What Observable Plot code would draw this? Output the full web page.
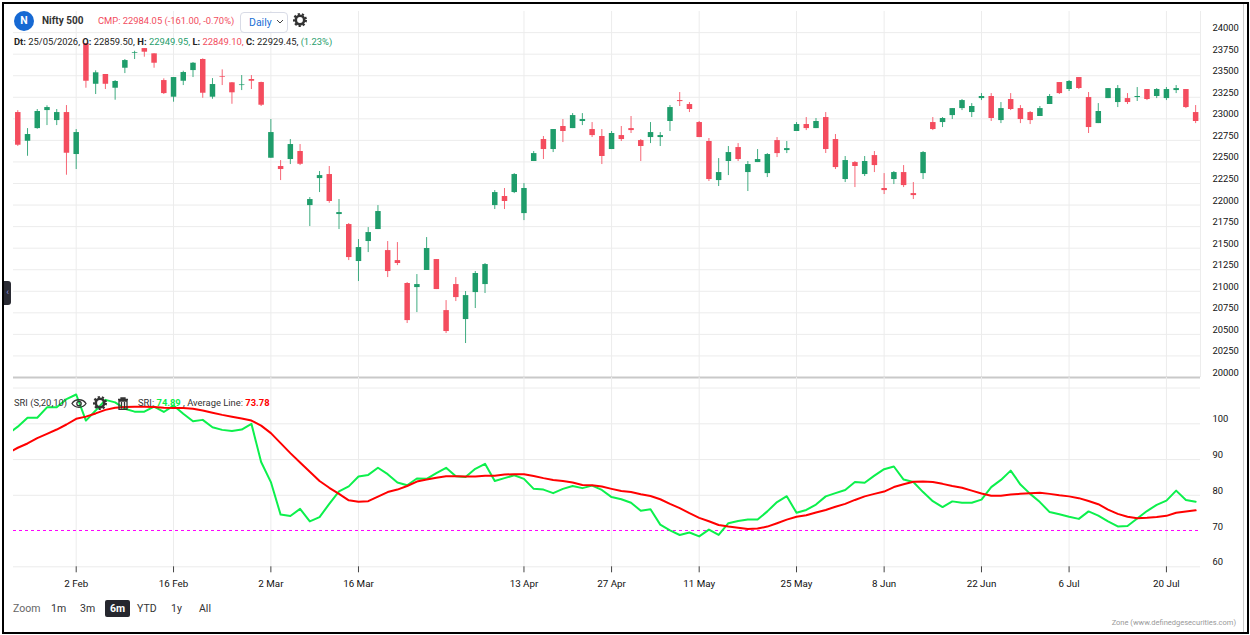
<!DOCTYPE html>
<html><head><meta charset="utf-8">
<script src="https://cdn.jsdelivr.net/npm/d3@7"></script>
<script src="https://cdn.jsdelivr.net/npm/@observablehq/plot@0.6"></script>
<style>
html,body{margin:0;padding:0;background:#fff;overflow:hidden}
body{width:1250px;height:635px;position:relative;font-family:Roboto,sans-serif;color:#222}
#topPane,#botPane{position:absolute;left:0}
#topPane{top:0}#botPane{top:377px}
.t{position:absolute;white-space:nowrap;font-size:9.4px;line-height:14px}
.z{font-size:10.5px}
b{font-weight:700}
.r{color:#f24c5e}.g{color:#1f9d6b}
#frame{position:absolute;left:2px;top:2px;width:1243px;height:628px;border:2px solid #000}
#inner{position:absolute;left:1243px;top:4px;width:1px;height:628px;background:#ccc}
svg.i{position:absolute}
</style></head><body>
<div id="topPane"></div><div id="botPane"></div>
<div id="frame"></div><div id="inner"></div>
<div style="position:absolute;left:14px;top:11px;width:20px;height:20px;border-radius:50%;background:#1669d3;color:#fff;font-size:10.5px;font-weight:700;text-align:center;line-height:20px">N</div>
<div class="t" style="left:42px;top:14px;font-weight:700;font-size:10px;color:#333">Nifty 500</div>
<div class="t r" style="left:98px;top:14px;font-size:9.4px">CMP: 22984.05 (-161.00, -0.70%)</div>
<div style="position:absolute;left:240px;top:12px;width:46px;height:19px;border:1px solid #d8dbe6;border-radius:4px;background:#fff"></div>
<div class="t z" style="left:249px;top:16px;color:#1a6fd6">Daily</div>
<svg class="i" style="left:276px;top:19px" width="8" height="6"><path d="M1 1L4 4L7 1" fill="none" stroke="#444" stroke-width="1"/></svg>
<svg class="i" style="left:293px;top:13px" width="14" height="14" viewBox="0 0 14 14"><circle cx="7" cy="7" r="4.2" fill="none" stroke="#333" stroke-width="2.6"/><circle cx="7" cy="7" r="6" fill="none" stroke="#333" stroke-width="2" stroke-dasharray="2.2 2"/></svg>
<div class="t" style="left:14px;top:35px;color:#222"><b>Dt:</b> 25/05/2026, <b>O:</b> 22859.50, <b>H:</b> <span class="g">22949.95,</span> <b>L:</b> <span class="r">22849.10,</span> <b>C:</b> 22929.45, <span class="g">(1.23%)</span></div>
<div class="t" style="left:14px;top:396px;color:#333">SRI (S,20,10)</div>
<svg class="i" style="left:71px;top:397px" width="16" height="13" viewBox="0 0 16 13"><path d="M1 6.5C4 1.5 12 1.5 15 6.5C12 11.500 4 11.500 1 6.5Z" fill="none" stroke="#333" stroke-width="1.300"/><circle cx="8" cy="6.500" r="2.200" fill="none" stroke="#333" stroke-width="1.300"/></svg>
<svg class="i" style="left:93px;top:396px" width="14" height="14" viewBox="0 0 14 14"><circle cx="7" cy="7" r="4.2" fill="none" stroke="#333" stroke-width="2.6"/><circle cx="7" cy="7" r="6" fill="none" stroke="#333" stroke-width="2" stroke-dasharray="2.2 2"/></svg>
<svg class="i" style="left:117px;top:397px" width="12" height="13" viewBox="0 0 12 13"><path d="M1 2.500H11M4 2.500V1H8V2.500M2 4H10V12.500H2ZM4.500 5V11.500M7.500 5V11.500" fill="none" stroke="#333" stroke-width="1.300"/></svg>
<div class="t" style="left:138px;top:396px;color:#333">SRI: <b style="color:#0cf04c">74.89</b> , Average Line: <b style="color:#f00">73.78</b></div>
<div style="position:absolute;left:4px;top:281px;width:7px;height:24px;background:#2a2b33;border-radius:0 3px 3px 0;color:#8f94e6;font-size:9px;line-height:22px;text-align:center">‹</div>
<div class="t z" style="left:13px;top:602px;color:#666">Zoom</div>
<div class="t z" style="left:51px;top:602px;color:#333">1m</div>
<div class="t z" style="left:80px;top:602px;color:#333">3m</div>
<div class="t z" style="left:105px;top:600px;width:25px;height:17px;background:#26272e;border-radius:2px;color:#fff;font-weight:700;text-align:center;line-height:17px">6m</div>
<div class="t z" style="left:137px;top:602px;color:#333">YTD</div>
<div class="t z" style="left:171px;top:602px;color:#333">1y</div>
<div class="t z" style="left:199px;top:602px;color:#333">All</div>
<div class="t" style="right:14px;top:616px;font-size:7.5px;color:#999">Zone (www.definedgesecurities.com)</div>
<script>
const opens = [23073,22740,22887,23096,22980,23073,22586,23873,23401,23514,23355,23587,23761,23815,23754,23444,23251,23436,23560,23688,23251,23491,23418,23386,23456,23421,22543,22447,22528,22621,21994,22307,22354,21890,21774,21345,21577,21716,21472,21356,21090,21043,21241,21368,20776,21078,20672,20985,21078,21994,22099,22145,21901,22505,22760,22644,22911,22887,22969,22876,22795,22644,22806,22887,22748,22783,22783,22969,23212,23166,22957,22737,22284,22505,22667,22377,22493,22365,22748,22632,22853,22934,22887,23015,22760,22296,22493,22354,22574,22192,22296,22377,22133,22365,22957,22957,23038,23119,23073,23235,23259,22980,23224,23119,23073,23027,23166,23421,23340,23479,23247,22945,23235,23189,23235,23247,23340,23259,23235,23328,23340,23073];
const closes = [22694,22818,23085,23131,23073,22601,22841,23436,23534,23401,23433,23676,23769,23773,23645,23293,23479,23537,23645,23297,23398,23483,23302,23394,23436,23158,22841,22412,22702,22473,22064,22342,22041,21913,21391,21507,21681,21925,21229,21322,20660,21078,21496,21020,20533,20927,20950,21206,21310,22145,22041,22354,22192,22597,22644,22876,22853,23038,22992,22806,22563,22830,22760,22864,22679,22841,22806,23131,23200,23108,22783,22296,22377,22609,22528,22470,22528,22586,22597,22655,22934,22887,22969,22644,22435,22516,22447,22505,22458,22168,22377,22226,22110,22609,22876,23004,23119,23212,23143,23259,23004,23119,23108,22992,22980,23119,23259,23293,23433,23352,22899,23085,23351,23351,23189,23259,23224,23340,23340,23351,23131,22969];
const highs = [23095,22887,23108,23151,23108,23154,22876,23873,23557,23514,23444,23688,23784,23815,23754,23464,23479,23552,23653,23696,23467,23568,23421,23502,23502,23425,22992,22516,22760,22702,22087,22389,22447,22064,21786,21600,21739,21994,21577,21565,21101,21194,21623,21368,20892,21159,20997,21229,21322,22168,22192,22365,22249,22621,22795,22876,22992,23061,23061,22957,22876,22853,22911,23027,22760,22957,22841,23154,23305,23189,22969,22772,22539,22679,22713,22505,22644,22597,22783,22737,22957,23015,23004,23073,22818,22563,22505,22563,22621,22365,22389,22458,22261,22621,23015,23015,23119,23224,23177,23293,23293,23189,23293,23154,23085,23143,23282,23421,23444,23479,23305,23177,23351,23386,23293,23363,23340,23351,23363,23386,23340,23154];
const lows = [22680,22566,22879,22922,22922,22346,22412,23355,23282,23340,23216,23525,23688,23715,23587,23282,23193,23386,23479,23239,23227,23386,23169,23328,23340,23143,22543,22284,22470,22458,21751,22145,22021,21716,21356,21113,21449,21716,21159,21298,20626,20753,21241,21020,20510,20881,20394,20800,20974,21948,21948,22133,21820,22505,22528,22609,22725,22887,22922,22783,22470,22644,22737,22830,22505,22713,22679,22853,23143,23073,22783,22273,22215,22342,22505,22157,22493,22319,22551,22597,22853,22864,22887,22598,22412,22261,22203,22331,22377,22122,22238,22203,22064,22296,22864,22899,22992,23096,23015,23212,22969,22945,23096,22945,22934,23027,23166,23282,23317,23340,22830,22945,23235,23131,23166,23201,23212,23235,23212,23293,23119,22945];
const sri = [97.2,99.2,101.7,101.7,104.6,104.6,106.9,108.2,100.9,103.7,106.7,106,104.2,103.4,103.4,104.8,103.3,105.1,102.8,100.7,101.1,99.05,98.3,98,98.4,100,89.3,83.7,74.6,74.2,76.2,72.7,73.9,77.6,81.1,82.5,85.25,85.7,87.7,85.9,83.6,82.8,84.7,84.6,86.2,87.7,85.3,85.1,87.4,88.8,84,84.8,85.6,84.6,81.8,81.6,80.6,81.8,82.6,82,82.7,81.5,79.5,78.9,77.9,75.7,76.1,71.8,70.2,68.9,69.6,68.5,70.4,68.9,72.2,72.8,73.2,73.2,75.5,78.1,79.75,75.1,75.9,77.4,79.7,80.6,81.5,83.7,83.5,85.5,87.3,88.05,84.4,83.7,80.9,78.35,76.7,78.3,77.9,77.9,78.8,82.3,84.3,86.9,83,80.4,78.1,75.3,74.7,74,73.4,75.5,74.3,72.7,71.3,71.4,73.5,75.6,77.3,78.5,81.3,78.7,78.2];
const avg = [91.8,93.3,94.5,96,97.2,98.4,99.8,101.4,102,102.9,103.9,104.5,104.7,104.8,104.8,104.7,104.5,104.4,104.4,104.2,103.7,103.1,102.5,102,101.5,100.9,99.5,97.4,94.6,91.8,89.2,86.6,84,82.1,80.4,78.6,78.2,78.35,79.65,80.9,81.6,82.6,83.85,84.4,84.9,85.3,85.3,85.25,85.25,85.5,85.5,85.8,85.9,85.9,85.4,84.8,84.3,84,83.6,82.9,82.8,82.45,81.8,81.2,80.9,80.3,79.8,78.9,77.6,76.4,75,73.7,72.75,71.7,71.25,70.9,70.6,70.7,71.25,72.2,73.2,74,74.4,75.2,75.9,76.8,77.6,78.7,79.7,80.4,81.05,82.3,83.1,83.8,83.85,83.7,83.2,82.6,82.1,81.3,80.5,79.9,79.9,80.2,80.4,80.6,80.7,80.4,80,79.7,79.2,78.4,77.5,76,74.8,74,73.6,73.7,73.9,74.25,75.1,75.5,75.8];
const tickIndex = [6,16,26,35,52,61,70,80,89,99,108,118];
const tickLabels = ["2 Feb","16 Feb","2 Mar","16 Mar","13 Apr","27 Apr","11 May","25 May","8 Jun","22 Jun","6 Jul","20 Jul"];
const priceTicks = [20000,20250,20500,20750,21000,21250,21500,21750,22000,22250,22500,22750,23000,23250,23500,23750,24000];
const sriTicks = [60,70,80,90,100];
const sriGrid = [60,80,90,100,110];
const level = 70;
const GREEN="#1f9d6b", RED="#f44c5e", GRID="#ececec";
const font='Roboto,sans-serif';

const candles = opens.map((o,i)=>({i,o,c:closes[i],h:highs[i],l:lows[i],col:closes[i]>=o?GREEN:RED}));
const xDomain = [-0.44,121.5];
const labelOf = new Map(tickIndex.map((d,k)=>[d,tickLabels[k]]));

const priceChart = Plot.plot({
  width:1250,height:378,marginLeft:13,marginRight:50,marginTop:11,marginBottom:1,
  style:{background:"transparent",fontFamily:font,color:"#111",overflow:"visible"},
  x:{domain:xDomain,axis:null},
  y:{domain:[20000,24245],axis:null},
  marks:[
    Plot.ruleY(priceTicks.slice(1),{stroke:GRID}),
    Plot.ruleX(tickIndex,{stroke:GRID}),
    Plot.ruleX([xDomain[1]],{stroke:GRID}),
    Plot.ruleY([20000],{stroke:"#c9c9c9",strokeWidth:2}),
    Plot.ruleX(candles,{x:"i",y1:"l",y2:"h",stroke:"col",strokeWidth:1,strokeOpacity:0.85}),
    Plot.ruleX(candles,{x:"i",y1:"o",y2:"c",stroke:"col",strokeWidth:5.5}),
    Plot.axisY(priceTicks,{anchor:"right",tickSize:0,tickPadding:12,dy:-4.5,textAnchor:"start",label:null,tickFormat:d=>String(d),fill:"#111",fontSize:9.4})
  ]
});
document.getElementById("topPane").append(priceChart);

const sriRows = sri.map((v,k)=>({i:k-1,v}));
const avgRows = avg.map((v,k)=>({i:k-1,v}));
const sriChart = Plot.plot({
  width:1250,height:258,marginLeft:13,marginRight:50,marginTop:0,marginBottom:68.7,
  style:{background:"transparent",fontFamily:font,color:"#111",overflow:"visible"},
  x:{domain:xDomain,axis:null},
  y:{domain:[60,112.95],axis:null},
  marks:[
    Plot.ruleY(sriGrid,{stroke:GRID}),
    Plot.ruleX(tickIndex,{stroke:GRID}),
    Plot.ruleY([level],{stroke:"#ff00ff",strokeDasharray:"3,3",strokeWidth:1,dy:-0.55}),
    Plot.line(sriRows,{x:"i",y:"v",stroke:"#0cf04c",strokeWidth:2,clip:true}),
    Plot.line(avgRows,{x:"i",y:"v",stroke:"#ff0000",strokeWidth:2,clip:true}),
    Plot.axisY(sriTicks,{anchor:"right",tickSize:0,tickPadding:12,dy:-4.5,textAnchor:"start",label:null,fill:"#111",fontSize:9.4}),
    Plot.axisX(tickIndex,{anchor:"bottom",tickSize:6,tickPadding:7,stroke:"#444",fill:"#111",label:null,tickFormat:d=>labelOf.get(d),fontSize:9.8})
  ]
});
document.getElementById("botPane").append(sriChart);
</script>
</body></html>
